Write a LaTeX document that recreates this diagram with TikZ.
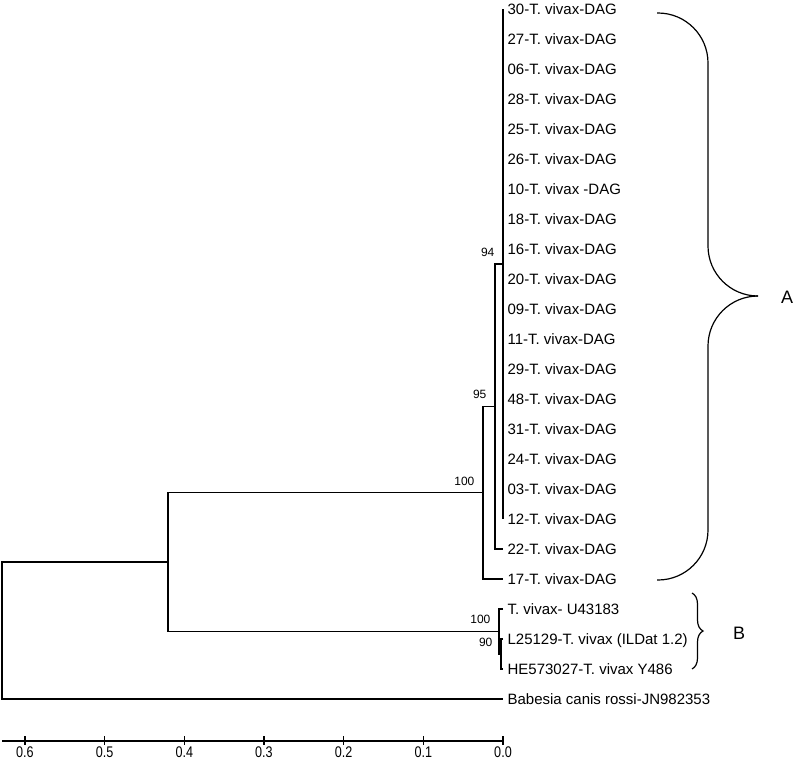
\documentclass[tikz,border=0pt]{standalone}
\usepackage{fontspec}
\setmainfont{Liberation Sans}
\usepackage{graphicx}
\usepackage{tikz}
\usetikzlibrary{decorations.pathreplacing}

\begin{document}
\begin{tikzpicture}[x=1pt, y=-1pt, line width=1.2pt,
  leaf/.style={anchor=west, inner sep=0pt, text height=10.7pt, text depth=0pt, font=\fontsize{15}{15}\selectfont},
  boot/.style={anchor=south east, inner sep=0pt, xshift=-8pt, yshift=7pt, font=\fontsize{12}{12}\selectfont},
  clade/.style={inner sep=0pt, font=\fontsize{18}{18}\selectfont},
  ticklbl/.style={inner sep=0pt, font=\fontsize{14}{14}\selectfont}]
\useasboundingbox (0,0) rectangle (795,761);

\foreach \lbl [count=\i from 0] in {30-T. vivax-DAG,
  27-T. vivax-DAG,
  06-T. vivax-DAG,
  28-T. vivax-DAG,
  25-T. vivax-DAG,
  26-T. vivax-DAG,
  10-T. vivax -DAG,
  18-T. vivax-DAG,
  16-T. vivax-DAG,
  20-T. vivax-DAG,
  09-T. vivax-DAG,
  11-T. vivax-DAG,
  29-T. vivax-DAG,
  48-T. vivax-DAG,
  31-T. vivax-DAG,
  24-T. vivax-DAG,
  03-T. vivax-DAG,
  12-T. vivax-DAG,
  22-T. vivax-DAG,
  17-T. vivax-DAG,
  T. vivax- U43183,
  L25129-T. vivax (ILDat 1.2),
  HE573027-T. vivax Y486,
  Babesia canis rossi-JN982353} {
  \coordinate (tip\i) at (503, 9+30*\i);
  \node[leaf] (t\i) at (507, 9+30*\i) {\lbl};
}

\coordinate (n94) at (503, 264);
\coordinate (n95) at (495, 406.5);
\coordinate (nA) at (483, 492.75);
\coordinate (n90) at (501, 654);
\coordinate (nB) at (499, 631.5);
\coordinate (n1) at (168, 562);
\coordinate (root) at (2, 630.5);

\draw (tip0) -- (tip17);
\draw (n94) -| (n95) |- (tip18);
\draw (n95) -| (nA) |- (tip19);
\draw (tip21) -| (n90) |- (tip22);
\draw (tip20) -| (nB) |- (n90);
\draw (nA) -| (n1) |- (nB);
\draw (n1) -| (root) |- (tip23);

\node[boot] (b94) at (n94) {94};
\node[boot] (b95) at (n95) {95};
\node[boot] (bA) at (nA) {100};
\node[boot] (bB) at (nB) {100};
\node[boot] (b90) at (n90) {90};

\draw[rounded corners=50pt] (657,13) -- (708,13) -- (708,296) -- (758,296);
\draw[rounded corners=50pt] (758,296) -- (708,296) -- (708,580) -- (657,580);
\node[clade] (A) at (787,297) {A};

\draw[decorate, decoration={brace, amplitude=11pt}] (692,593) -- (692,669);
\node[clade] (B) at (739,633) {B};

\draw (2,741) -- (503,741);
\foreach \k in {0,...,6} {
  \draw (503-79.67*\k, 736) -- (503-79.67*\k, 745);
  \node[ticklbl] (s\k) at (503-79.67*\k, 752) {\scalebox{0.9}[1.1]{0.\k}};
}
\end{tikzpicture}
\end{document}
